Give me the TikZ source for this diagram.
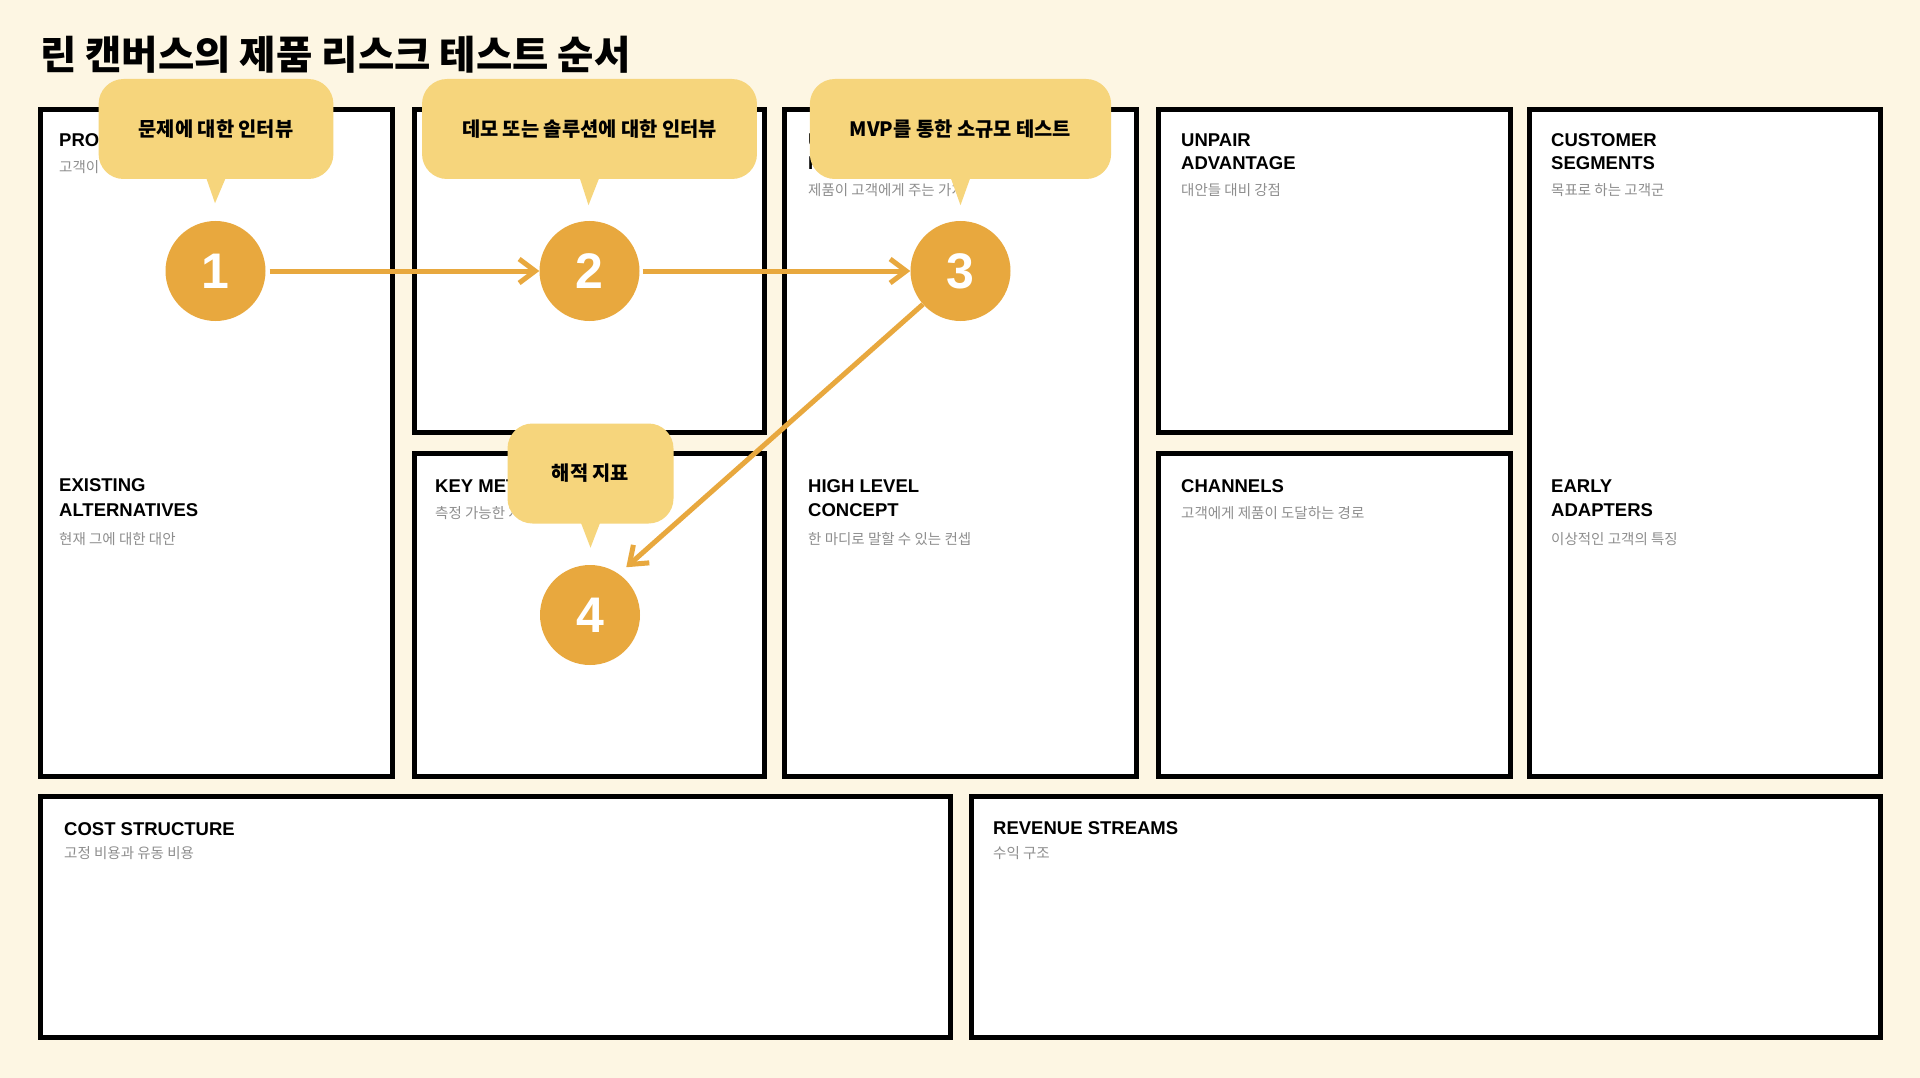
\documentclass[tikz,border=0pt]{standalone}
\usepackage{fontspec}
\setmainfont{Liberation Sans}
\newfontfamily\krfont{Noto Sans CJK KR}
\usetikzlibrary{arrows.meta}

\definecolor{canvas}{HTML}{FDF6E3}
\definecolor{bubblefill}{HTML}{F6D57C}
\definecolor{stepgold}{HTML}{E8A83E}
\definecolor{notegray}{HTML}{8E8E8E}

\tikzset{
  cell/.style={draw=black, line width=5pt, fill=white},
  head/.style={anchor=base west, inner sep=0pt, font=\bfseries\fontsize{18.5}{22}\selectfont},
  note/.style={anchor=base west, inner sep=0pt, text=notegray, font=\krfont\fontsize{14.5}{17}\selectfont},
  bubble/.style={fill=bubblefill, rounded corners=25pt, minimum height=100pt, inner xsep=40pt,
    font=\krfont\bfseries\fontsize{19.8}{23}\selectfont},
  numdot/.style={circle, fill=stepgold, minimum size=100pt, inner sep=0pt, text=white,
    font=\bfseries\fontsize{50}{50}\selectfont},
  flow/.style={draw=stepgold, line width=5pt, -{Straight Barb[length=16pt,width=24pt]}}
}

\begin{document}
\begin{tikzpicture}[x=1pt,y=-1pt]
    \fill[canvas] (0,0) rectangle (1920,1078);
    \useasboundingbox (0,0) rectangle (1920,1078);

    \node[anchor=base west, inner sep=0pt, font=\krfont\bfseries\fontsize{39.5}{42}\selectfont] (title) at (40,70) {린 캔버스의 제품 리스크 테스트 순서};

    % canvas cells
    \draw[cell] (40.5,109.5) rectangle (392,776.5);
    \draw[cell] (414,109.5) rectangle (764.5,432.5);
    \draw[cell] (414,453.5) rectangle (764.5,776.5);
    \draw[cell] (784.5,109.5) rectangle (1136,776.5);
    \draw[cell] (1158.5,109.5) rectangle (1510,432.5);
    \draw[cell] (1158.5,453.5) rectangle (1510,776.5);
    \draw[cell] (1529.5,109.5) rectangle (1880.5,776.5);
    \draw[cell] (40.5,796.5) rectangle (950.5,1037);
    \draw[cell] (971.5,796.5) rectangle (1880.5,1037);

    % cell texts
    \node[head] (prob) at (59,147) {PROBLEM};
    \node[note] (probn) at (59,173) {고객이 겪는 문제};
    \node[head] (alt1) at (59,491) {EXISTING};
    \node[head] (alt2) at (59,516) {ALTERNATIVES};
    \node[note] (altn) at (59,544) {현재 그에 대한 대안};

    \node[head] (kpi) at (435,492) {KEY METRICS};
    \node[note] (kpin) at (435,518) {측정 가능한 지표};

    \node[head] (uvp1) at (808,147) {UNIQUE VALUE};
    \node[head] (uvp2) at (808,170) {PROPOSITION};
    \node[note] (uvpn) at (808,196) {제품이 고객에게 주는 가치};
    \node[head] (hlc1) at (808,492) {HIGH LEVEL};
    \node[head] (hlc2) at (808,516) {CONCEPT};
    \node[note] (hlcn) at (808,544) {한 마디로 말할 수 있는 컨셉};

    \node[head] (adv1) at (1181,147) {UNPAIR};
    \node[head] (adv2) at (1181,170) {ADVANTAGE};
    \node[note] (advn) at (1181,196) {대안들 대비 강점};
    \node[head] (chan) at (1181,492) {CHANNELS};
    \node[note] (chann) at (1181,518) {고객에게 제품이 도달하는 경로};

    \node[head] (seg1) at (1551,147) {CUSTOMER};
    \node[head] (seg2) at (1551,170) {SEGMENTS};
    \node[note] (segn) at (1551,196) {목표로 하는 고객군};
    \node[head] (ea1) at (1551,492) {EARLY};
    \node[head] (ea2) at (1551,516) {ADAPTERS};
    \node[note] (ean) at (1551,544) {이상적인 고객의 특징};

    \node[head] (cost) at (64,835) {COST STRUCTURE};
    \node[note] (costn) at (64,858) {고정 비용과 유동 비용};
    \node[head] (rev) at (993,834) {REVENUE STREAMS};
    \node[note] (revn) at (993,858) {수익 구조};

    % test order
    \node[numdot] (c1) at (215.5,271) {1};
    \node[numdot] (c2) at (589.5,271) {2};
    \node[numdot] (c3) at (960.5,271) {3};
    \node[numdot] (c4) at (590,615) {4};

    \draw[flow, shorten <=4pt] (c1) -- (c2);
    \draw[flow, shorten <=3pt] (c2) -- (c3);
    \draw[flow, shorten >=10pt] (c3) -- (c4.55);

    % speech bubbles
    \node[bubble] (b1) at (216,129) {문제에 대한 인터뷰};
    \fill[bubblefill] (b1.south) ++(-10,-2) -- ++(9,26) -- ++(11,-26) -- cycle;
    \node[bubble] (b2) at (589.5,129) {데모 또는 솔루션에 대한 인터뷰};
    \fill[bubblefill] (b2.south) ++(-10,-2) -- ++(9,28) -- ++(11,-28) -- cycle;
    \node[bubble] (b3) at (960.5,129) {MVP를 통한 소규모 테스트};
    \fill[bubblefill] (b3.south) ++(-10,-2) -- ++(10,28) -- ++(10,-28) -- cycle;
    \node[bubble, minimum width=166pt] (b4) at (590.5,473.5) {해적 지표};
    \fill[bubblefill] (b4.south) ++(-10,-2) -- ++(10,26) -- ++(10,-26) -- cycle;
\end{tikzpicture}
\end{document}
